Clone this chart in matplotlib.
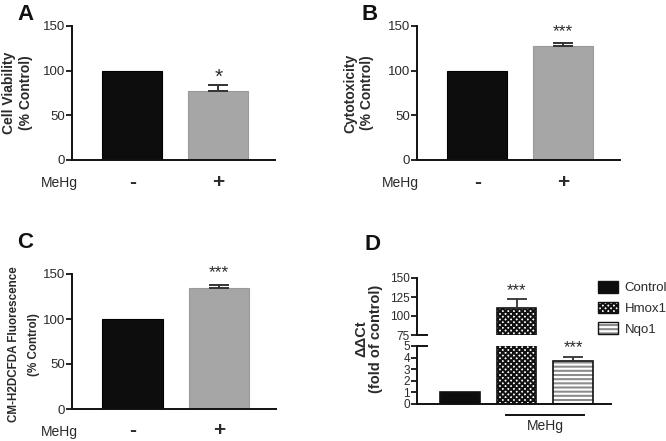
import matplotlib
matplotlib.use("Agg")
import matplotlib.pyplot as plt
from matplotlib.patches import Patch

plt.rcParams['font.family'] = ['Liberation Sans', 'DejaVu Sans']
plt.rcParams['hatch.linewidth'] = 1.5

# ---------------- data ----------------
groups = ['-', '+']
viability = [100, 77]
viability_err = [0, 6.5]
cytotox = [100, 127.5]
cytotox_err = [0, 3.5]
fluor = [100, 135]
fluor_err = [0, 2.8]
genes = ['Control', 'Hmox1', 'Nqo1']
ddct = [1.0, 110.0, 3.7]
ddct_err = [0.0, 12.0, 0.35]
sig_a = ['', '*']
sig_b = ['', '***']
sig_c = ['', '***']
sig_d = ['', '***', '***']

W, H = 666, 441
fig = plt.figure(figsize=(W / 100, H / 100), dpi=100)

def rect(x0, y0, x1, y1):
    return [x0 / W, 1 - y1 / H, (x1 - x0) / W, (y1 - y0) / H]

TXT = '#2a2a2a'
fill_cols = ['#0d0d0d', '#a6a6a6']
edge_cols = ['#000000', '#9a9a9a']

def style_axis(ax, size=9.5):
    for s in ['top', 'right']:
        ax.spines[s].set_visible(False)
    for s in ['left', 'bottom']:
        ax.spines[s].set_linewidth(1.4)
        ax.spines[s].set_color('#111111')
    ax.tick_params(axis='y', direction='out', length=4, width=1.2,
                   labelsize=size, labelcolor=TXT, pad=1)

def bar_panel(box, vals, errs, sigs, sig_size, ylabel, ylab_size, ylab_ls, ylab_x,
              letter, letter_xy, sig_y, meh_xy):
    ax = fig.add_axes(rect(*box))
    x = list(range(len(vals)))
    ax.bar(x, vals, width=0.7, color=fill_cols, edgecolor=edge_cols, linewidth=0.8, zorder=2)
    for xi, v, e in zip(x, vals, errs):
        if e > 0:
            ax.errorbar([xi], [v], yerr=[[0], [e]], fmt='none', ecolor='#333333',
                        elinewidth=1.4, capsize=7.5, capthick=1.4, zorder=3)
    for xi, s in zip(x, sigs):
        if s:
            ax.text(xi, sig_y, s, ha='center', va='center', fontsize=sig_size,
                    color=TXT, clip_on=False)
    ax.set_xlim(-0.70, 1.66)
    ax.set_ylim(0, 150)
    ax.set_yticks([0, 50, 100, 150])
    style_axis(ax)
    ax.set_xticks(x)
    ax.set_xticklabels(groups, fontsize=15, fontweight='bold', color=TXT)
    ax.tick_params(axis='x', length=0, pad=9)
    ax.set_ylabel(ylabel, fontsize=ylab_size, fontweight='bold', color=TXT,
                  linespacing=ylab_ls)
    ax.yaxis.set_label_coords(ylab_x, 0.5)
    fig.text(letter_xy[0] / W, 1 - letter_xy[1] / H, letter, fontsize=16,
             fontweight='bold', ha='center', va='center', color='#111111')
    fig.text(meh_xy[0] / W, 1 - meh_xy[1] / H, 'MeHg', fontsize=10, ha='center',
             va='center', color=TXT)
    return ax

bar_panel((72, 26, 275, 160), viability, viability_err, sig_a, 15,
          'Cell Viability\n(% Control)', 10, 1.3, -0.19, 'A', (25, 14), 93, (59, 183))
bar_panel((417, 26, 620, 160), cytotox, cytotox_err, sig_b, 12.5,
          'Cytotoxicity\n(% Control)', 10, 1.3, -0.21, 'B', (370, 14), 144, (400, 183))
axC = bar_panel((72, 274, 276, 409), fluor, fluor_err, sig_c, 12.5,
                'CM-H2DCFDA Fluorescence\n(% Control)', 8.4, 1.9, -0.155, 'C', (25, 242),
                151, (59, 432))
axC.yaxis.set_label_coords(-0.155, 0.48)

# ---------------- panel D (broken axis) ----------------
axU = fig.add_axes(rect(417, 278, 611, 335))
axL = fig.add_axes(rect(417, 346, 611, 404))
xd = list(range(len(ddct)))
d_fill = ['#0d0d0d', 'white', '#8c8c8c']
d_hatch = [None, 'xxxxxx', '----']
d_hcol = ['#000000', '#111111', 'white']
for ax in (axU, axL):
    for xi in xd:
        ax.bar(xi, ddct[xi], width=0.7, color=d_fill[xi], hatch=d_hatch[xi],
               edgecolor=d_hcol[xi], linewidth=0, zorder=2)
        ax.bar(xi, ddct[xi], width=0.7, fill=False, edgecolor='#111111',
               linewidth=1.2, zorder=2.5)
        if ddct_err[xi] > 0:
            ax.errorbar([xi], [ddct[xi]], yerr=[[0], [ddct_err[xi]]], fmt='none',
                        ecolor='#333333', elinewidth=1.3, capsize=7, capthick=1.3, zorder=3)
    ax.set_xlim(-0.76, 2.67)
    style_axis(ax, size=8.5)
axU.set_ylim(75, 150)
axU.set_yticks([75, 100, 125, 150])
axU.spines['bottom'].set_visible(False)
axU.set_xticks([])
axL.set_ylim(0, 5)
axL.set_yticks([0, 1, 2, 3, 4, 5])
axL.set_xticks([])
# break marks
for ax in (axU, axL):
    yb = 0.0 if ax is axU else 1.0
    ax.plot([0, 0.05], [yb, yb], color='#111111', lw=1.4, clip_on=False, zorder=4,
            transform=ax.transAxes)
axU.text(1, 134, sig_d[1], ha='center', va='center', fontsize=12, color=TXT, clip_on=False)
axL.text(2, 4.85, sig_d[2], ha='center', va='center', fontsize=12, color=TXT, clip_on=False)
# MeHg bracket
axL.plot([0.459, 0.861], [-0.19, -0.19], color='#111111', lw=1.4, clip_on=False,
         transform=axL.transAxes)
fig.text(545 / W, 1 - 426 / H, 'MeHg', fontsize=10, ha='center', va='center', color=TXT)
fig.text(373 / W, 1 - 245 / H, 'D', fontsize=16, fontweight='bold', ha='center',
         va='center', color='#111111')
fig.text(361 / W, 1 - 339 / H, 'ΔΔCt', rotation=90, fontsize=10.5,
         fontweight='bold', ha='center', va='center', color=TXT)
fig.text(376 / W, 1 - 339 / H, '(fold of control)', rotation=90, fontsize=10.5,
         fontweight='bold', ha='center', va='center', color=TXT)

handles = [(Patch(facecolor=d_fill[i], edgecolor=d_hcol[i], hatch=d_hatch[i], linewidth=0),
            Patch(fill=False, edgecolor='#111111', linewidth=1.0)) for i in xd]
fig.legend(handles, genes, loc='upper left', bbox_to_anchor=(598 / W, 1 - 281 / H),
           frameon=False, fontsize=9.5, handlelength=1.5, handleheight=1.0,
           labelspacing=0.55, handletextpad=0.5, borderaxespad=0, borderpad=0,
           labelcolor=TXT)

fig.savefig('out.png', dpi=100)
